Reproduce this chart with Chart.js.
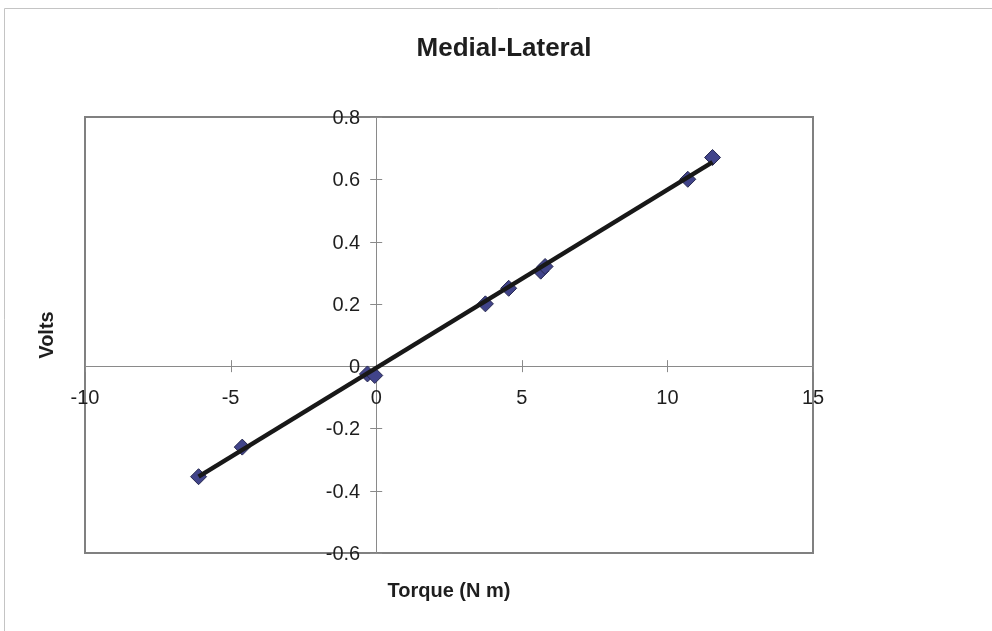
<!DOCTYPE html>
<html><head><meta charset="utf-8">
<script src="https://cdn.jsdelivr.net/npm/chart.js@4.4.0/dist/chart.umd.min.js"></script>
<style>html,body{margin:0;padding:0;background:#fff;} #wrap{width:992px;height:631px;position:relative;}</style>
</head><body><div id="wrap"><canvas id="c" width="992" height="631"></canvas></div>
<script>
const chartTitle = 'Medial-Lateral';
const xAxisTitle = 'Torque (N m)';
const yAxisTitle = 'Volts';
const xTicks = [-10, -5, 0, 5, 10, 15];
const yTicks = [-0.6, -0.4, -0.2, 0, 0.2, 0.4, 0.6, 0.8];
const xTickLabels = ['-10', '-5', '0', '5', '10', '15'];
const yTickLabels = ['-0.6', '-0.4', '-0.2', '0', '0.2', '0.4', '0.6', '0.8'];
const torque = [-6.1, -4.6, -0.3, -0.05, 3.75, 4.55, 5.65, 5.8, 10.7, 11.55];
const volts = [-0.355, -0.26, -0.025, -0.03, 0.2, 0.25, 0.305, 0.32, 0.6, 0.67];
const trendX = [-6.1, 11.55];
const trendY = [-0.355, 0.655];

const FONT = '"Liberation Sans", Arial, sans-serif';

const excelAxes = {
  id: 'excelAxes',
  beforeDatasetsDraw(chart) {
    const ctx = chart.ctx;
    const a = chart.chartArea;
    const xs = chart.scales.x, ys = chart.scales.y;
    const x0 = xs.getPixelForValue(0), y0 = ys.getPixelForValue(0);
    ctx.save();
    // outer frame (left + top)
    ctx.strokeStyle = '#c4c4c4';
    ctx.lineWidth = 1;
    ctx.beginPath();
    ctx.moveTo(4.5, 631); ctx.lineTo(4.5, 8.5); ctx.lineTo(992, 8.5);
    ctx.stroke();
    // plot border
    ctx.strokeStyle = '#808080';
    ctx.lineWidth = 2;
    ctx.strokeRect(a.left, a.top, a.right - a.left, a.bottom - a.top);
    // axes lines
    ctx.strokeStyle = '#8a8a8a';
    ctx.lineWidth = 1;
    ctx.beginPath();
    ctx.moveTo(a.left, Math.round(y0) + 0.5); ctx.lineTo(a.right, Math.round(y0) + 0.5);
    ctx.moveTo(Math.round(x0) + 0.5, a.top); ctx.lineTo(Math.round(x0) + 0.5, a.bottom);
    ctx.stroke();
    // cross ticks
    ctx.beginPath();
    xTicks.forEach(v => {
      const px = Math.round(xs.getPixelForValue(v)) + 0.5;
      ctx.moveTo(px, y0 - 6); ctx.lineTo(px, y0 + 6);
    });
    yTicks.forEach(v => {
      const py = Math.round(ys.getPixelForValue(v)) + 0.5;
      ctx.moveTo(x0 - 6, py); ctx.lineTo(x0 + 6, py);
    });
    ctx.stroke();
    // tick labels
    ctx.fillStyle = '#1e1e1e';
    ctx.font = '20px ' + FONT;
    ctx.textBaseline = 'alphabetic';
    ctx.textAlign = 'center';
    xTicks.forEach((v, i) => {
      ctx.fillText(xTickLabels[i], xs.getPixelForValue(v), y0 + 38);
    });
    ctx.textAlign = 'right';
    yTicks.forEach((v, i) => {
      ctx.fillText(yTickLabels[i], x0 - 16, ys.getPixelForValue(v) + 7);
    });
    // titles
    ctx.font = 'bold 26px ' + FONT;
    ctx.textAlign = 'center';
    ctx.fillText(chartTitle, 504, 56);
    ctx.font = 'bold 20px ' + FONT;
    ctx.fillText(xAxisTitle, (a.left + a.right) / 2, 597);
    ctx.translate(53, (a.top + a.bottom) / 2);
    ctx.rotate(-Math.PI / 2);
    ctx.fillText(yAxisTitle, 0, 0);
    ctx.restore();
  }
};

new Chart(document.getElementById('c'), {
  type: 'scatter',
  data: {
    datasets: [
      {
        label: 'Trend',
        data: trendX.map((x, i) => ({x, y: trendY[i]})),
        showLine: true,
        borderColor: '#181818',
        borderWidth: 4.5,
        pointRadius: 0,
        fill: false,
        order: 0
      },
      {
        label: 'Volts',
        data: torque.map((x, i) => ({x, y: volts[i]})),
        pointStyle: 'rectRot',
        pointRadius: 8,
        pointHoverRadius: 8,
        backgroundColor: '#41448a',
        borderColor: '#26284f',
        borderWidth: 1,
        order: 1
      }
    ]
  },
  options: {
    responsive: false,
    animation: false,
    devicePixelRatio: 1,
    layout: { padding: { left: 85, right: 992 - 813, top: 117, bottom: 631 - 553 } },
    plugins: { legend: { display: false }, title: { display: false }, tooltip: { enabled: false } },
    scales: {
      x: { type: 'linear', min: -10, max: 15, display: false },
      y: { type: 'linear', min: -0.6, max: 0.8, display: false }
    }
  },
  plugins: [excelAxes]
});
</script>
</body></html>
